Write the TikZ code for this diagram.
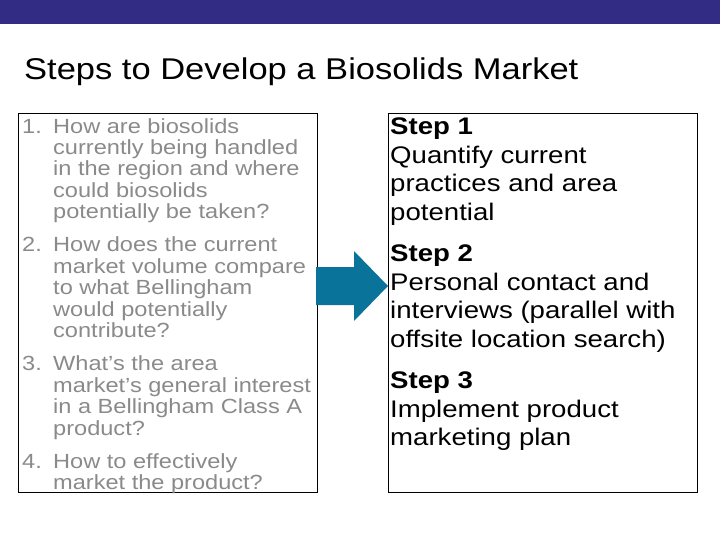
\documentclass[tikz,border=0pt]{standalone}
\usepackage{fontspec}
\setmainfont[FakeStretch=1.15]{Liberation Sans}
\usetikzlibrary{positioning}
\definecolor{barpurple}{HTML}{332C85}
\definecolor{arrowteal}{HTML}{0A7399}
\definecolor{qgray}{HTML}{8A8A8A}
\tikzset{
    panel/.style={
           rectangle,
           draw=black, thin,
           minimum width=299pt,
           minimum height=379pt,
           anchor=north west,
           },
    listing/.style={
           anchor=north west,
           inner sep=0pt,
           align=left,
           },
}
\newcommand{\qitem}[2]{\makebox[31pt][l]{#1}\parbox[t]{262pt}{#2\strut}\par\vspace{11pt}}

\begin{document}
\begin{tikzpicture}[x=1pt,y=-1pt]
      \useasboundingbox (0,0) rectangle (720,540);
      % top bar and title
      \fill[barpurple] (0,0) rectangle (720,24);
      \node[anchor=west, inner sep=0pt, font=\fontsize{30pt}{34pt}\selectfont] (TITLE) at (24,72)
          {Steps to Develop a Biosolids Market};

      % the two panels
      \node[panel] (P_LEFT) at (18,113) {};
      \node[panel, minimum width=309pt] (P_RIGHT) at (388,113) {};

      % questions
      \node[listing, text=qgray, font=\fontsize{20.5pt}{21.4pt}\selectfont] (L_QUEST) at (22,118)
      {\parbox[t]{300pt}{%
          \qitem{1.}{How are biosolids\\currently being handled\\in the region and where\\could biosolids\\potentially be taken?}
          \qitem{2.}{How does the current\\market volume compare\\to what Bellingham\\would potentially\\contribute?}
          \qitem{3.}{What’s the area\\market’s general interest\\in a Bellingham Class A\\product?}
          \qitem{4.}{How to effectively\\market the product?}
      }};

      % steps
      \node[listing, font=\fontsize{24pt}{28.5pt}\selectfont] (L_STEPS) at (390,118)
      {\parbox[t]{305pt}{%
          \textbf{Step 1}\\Quantify current\\practices and area\\potential\par\vspace{13pt}
          \textbf{Step 2}\\Personal contact and\\interviews (parallel with\\offsite location search)\par\vspace{13pt}
          \textbf{Step 3}\\Implement product\\marketing plan
      }};

      % arrow between the panels
      \coordinate (TIP) at (P_RIGHT.west |- 0,286);
      \fill[arrowteal] (TIP) -- ++(-34,-35) -- ++(0,16) -- ++(-38,0) -- ++(0,38)
          -- ++(38,0) -- ++(0,16) -- cycle;
\end{tikzpicture}
\end{document}
